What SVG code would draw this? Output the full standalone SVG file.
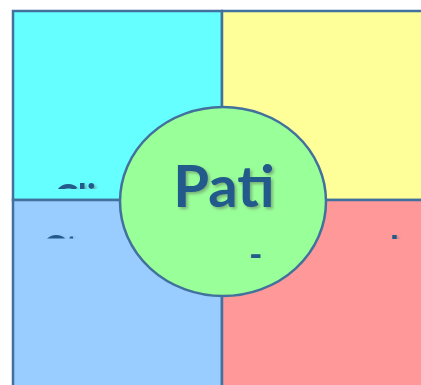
<svg xmlns="http://www.w3.org/2000/svg" width="421" height="385" viewBox="0 0 421 385">
<style>
.q{stroke:#41719C;stroke-width:2.5}
.t{font-family:Lato,"Open Sans",sans-serif;font-weight:bold;fill:#245A8C}
</style>
<defs>
<filter id="sh" x="-20%" y="-20%" width="140%" height="140%">
<feDropShadow dx="2" dy="2" stdDeviation="1.5" flood-color="#556655" flood-opacity="0.5"/>
</filter>
<clipPath id="c1"><rect x="13" y="150" width="209" height="39"/></clipPath>
<clipPath id="c2"><rect x="13" y="200" width="209" height="38.5"/></clipPath>
<clipPath id="c3"><rect x="222" y="200" width="199" height="39"/></clipPath>
<clipPath id="c4"><rect x="200" y="250" width="100" height="8"/></clipPath>
</defs>
<g id="q-tl"><rect class="q" x="13" y="11" width="209" height="189" fill="#66FFFF"/>
<text class="t" x="54" y="210" font-size="36" clip-path="url(#c1)" filter="url(#sh)">Cli</text></g>
<g id="q-tr"><rect class="q" x="222" y="11" width="210" height="189" fill="#FFFF99"/></g>
<g id="q-bl"><rect class="q" x="13" y="200" width="209" height="200" fill="#99CCFF"/>
<text class="t" x="42" y="261" font-size="36" clip-path="url(#c2)" filter="url(#sh)">Ct</text></g>
<g id="q-br"><rect class="q" x="222" y="200" width="210" height="200" fill="#FF9999"/>
<text class="t" x="390" y="262" font-size="36" clip-path="url(#c3)" filter="url(#sh)">l</text></g>
<g id="center"><ellipse cx="223" cy="201.5" rx="103" ry="94.5" fill="#99FF99" stroke="#41719C" stroke-width="2.5"/>
<text class="t" x="224" y="207" font-size="58" text-anchor="middle" filter="url(#sh)">Pati</text>
<text class="t" x="249" y="267" font-size="36" clip-path="url(#c4)">-</text></g>
<g id="connectors"/>
</svg>
